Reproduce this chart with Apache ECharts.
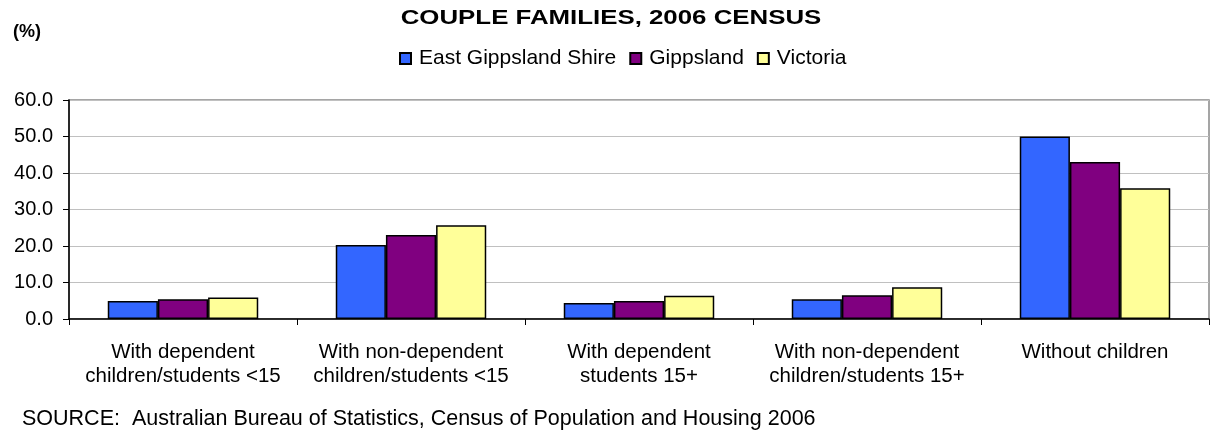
<!DOCTYPE html>
<html>
<head>
<meta charset="utf-8">
<script src="https://cdn.jsdelivr.net/npm/echarts@6/dist/echarts.min.js"></script>
<style>html,body{margin:0;padding:0;background:#fff}#c{width:1211px;height:437px}</style>
</head>
<body>
<div id="c"></div>
<script>
var categories = ['With dependent\nchildren/students <15', 'With non-dependent\nchildren/students <15', 'With dependent\nstudents 15+', 'With non-dependent\nchildren/students 15+', 'Without children'];
var seriesNames = ['East Gippsland Shire', 'Gippsland', 'Victoria'];
var eastGippsland = [4.9, 20.3, 4.4, 5.4, 50.0];
var gippsland = [5.4, 23.0, 4.9, 6.5, 43.0];
var victoria = [5.9, 25.7, 6.4, 8.7, 35.8];
var colors = ['#3366FF', '#800080', '#FFFF99'];
var yTicks = {min: 0, max: 60, interval: 10};
var titleText = 'COUPLE FAMILIES, 2006 CENSUS';
var unitText = '(%)';
var sourceText = 'SOURCE:  Australian Bureau of Statistics, Census of Population and Housing 2006';

var font = 'Liberation Sans, Arial, sans-serif';
var chart = echarts.init(document.getElementById('c'));
function mk(name, data, color) {
  return {
    name: name, type: 'bar', data: data, barGap: '0%', barCategoryGap: '34%',
    itemStyle: {color: color, borderColor: '#000', borderWidth: 1.5},
    emphasis: {disabled: true}
  };
}
chart.setOption({
  animation: false,
  textStyle: {fontFamily: font},
  title: [
    {text: unitText, left: 8, top: 18,
     textStyle: {fontFamily: font, fontSize: 18, fontWeight: 'bold', color: '#000'}},
    {text: sourceText, left: 17, top: 403,
     textStyle: {fontFamily: font, fontSize: 21.5, fontWeight: 'normal', color: '#000'}}
  ],
  graphic: [
    {type: 'text', x: 611, y: 18, scaleX: 1.23, scaleY: 1, silent: true,
     style: {text: titleText, font: 'bold 21px ' + font, fill: '#000', textAlign: 'center', textVerticalAlign: 'middle'}}
  ],
  legend: {
    data: seriesNames, left: 394, top: 43, itemWidth: 11, itemHeight: 11, itemGap: 13,
    textStyle: {fontFamily: font, fontSize: 21, color: '#000', padding: [0, 0, 0, 3]},
    icon: 'rect'
  },
  grid: {left: 69, right: 2, top: 100, bottom: 118, show: true, borderColor: '#888', borderWidth: 1.5, backgroundColor: '#fff'},
  xAxis: {
    type: 'category', data: categories,
    axisLine: {lineStyle: {color: '#000', width: 1.5}},
    axisTick: {show: true, length: 6, lineStyle: {color: '#000'}},
    axisLabel: {interval: 0, fontFamily: font, fontSize: 20.5, color: '#000', lineHeight: 24, margin: 21}
  },
  yAxis: {
    type: 'value', min: yTicks.min, max: yTicks.max, interval: yTicks.interval,
    axisLine: {show: true, lineStyle: {color: '#000', width: 1.5}},
    axisTick: {show: true, length: 6, lineStyle: {color: '#000'}},
    axisLabel: {fontFamily: font, fontSize: 20, color: '#000', margin: 16, formatter: function (v) { return v.toFixed(1); }},
    splitLine: {lineStyle: {color: '#c0c0c0', width: 1}}
  },
  series: [mk(seriesNames[0], eastGippsland, colors[0]), mk(seriesNames[1], gippsland, colors[1]), mk(seriesNames[2], victoria, colors[2])]
});
</script>
</body>
</html>
